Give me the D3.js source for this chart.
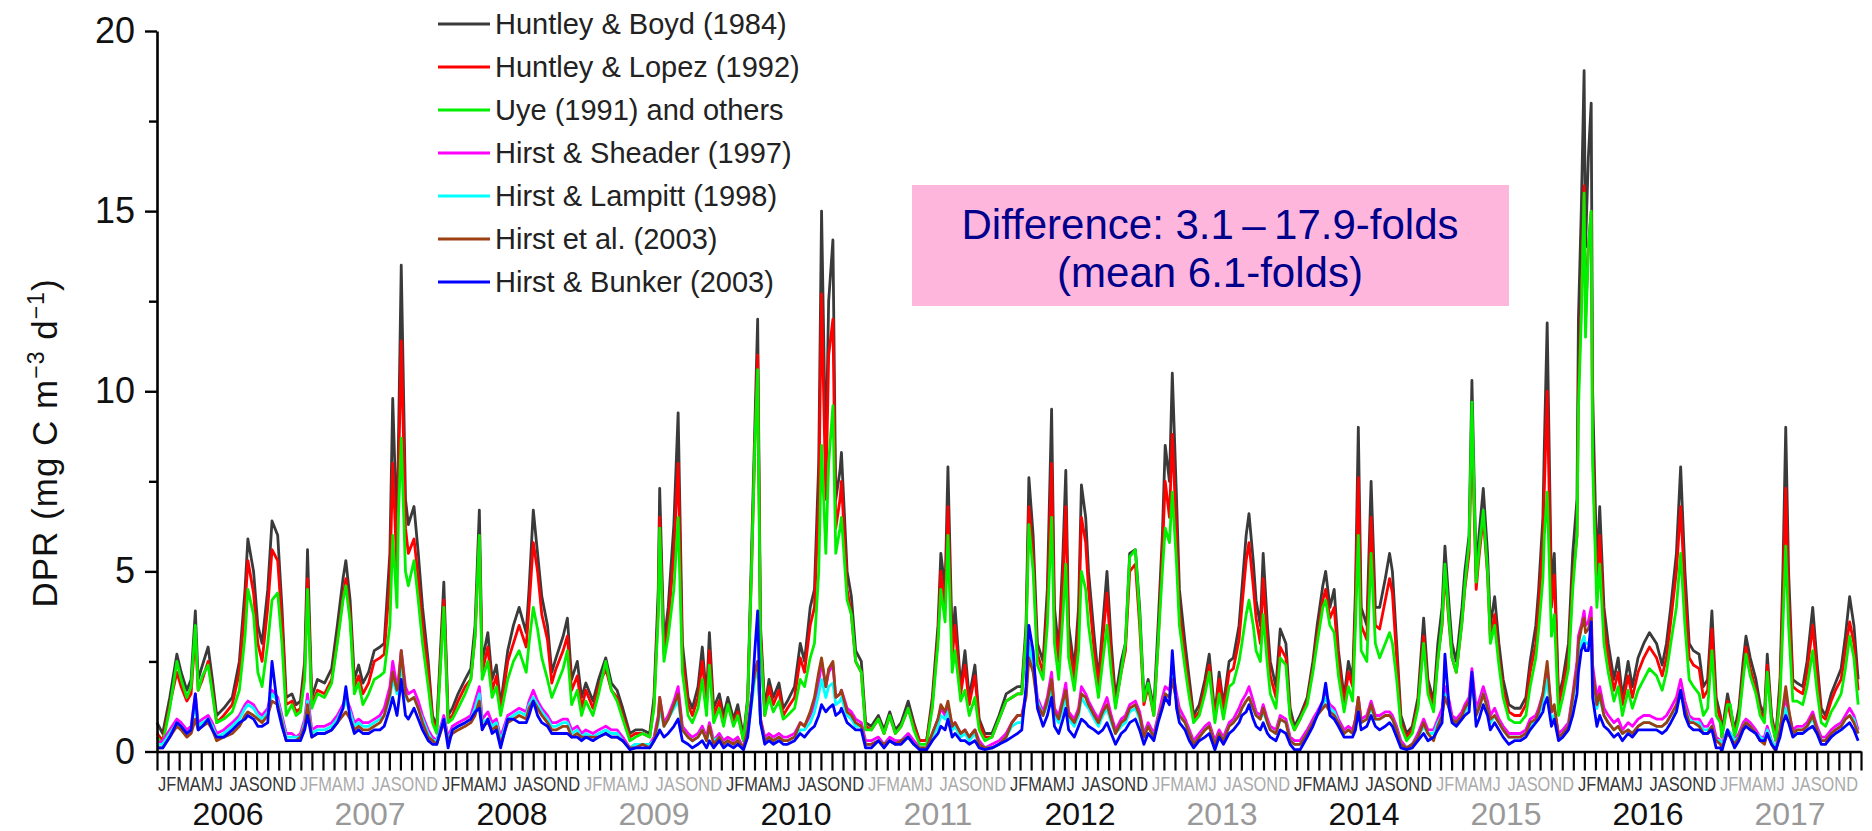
<!DOCTYPE html>
<html>
<head>
<meta charset="utf-8">
<script src="https://cdn.jsdelivr.net/npm/d3@7"></script>
<style>
  html, body { margin: 0; padding: 0; background: #fff; }
  svg { display: block; font-family: "Liberation Sans", Arial, sans-serif; }
</style>
</head>
<body>
<svg id="chart" width="1872" height="831"></svg>
<script>
// Sampling times (decimal years) and daily production rate estimates, mg C m-3 d-1
const sampleYear = [
  2006.00,2006.04,2006.09,2006.14,2006.17,2006.21,2006.24,2006.27,2006.29,2006.32,2006.36,2006.39,2006.42,2006.47,2006.53,2006.58,2006.62,2006.64,2006.68,2006.71,2006.74,2006.78,2006.81,2006.85,2006.88,2006.91,2006.95,2006.98,
  2007.01,2007.04,2007.06,2007.09,2007.13,2007.18,2007.23,2007.27,2007.31,2007.33,2007.36,2007.39,2007.42,2007.45,2007.49,2007.53,2007.57,2007.60,2007.64,2007.66,2007.69,2007.70,2007.72,2007.75,2007.77,2007.81,2007.84,2007.87,2007.91,2007.94,2007.97,
  2008.02,2008.05,2008.08,2008.12,2008.17,2008.21,2008.24,2008.27,2008.29,2008.33,2008.36,2008.39,2008.42,2008.47,2008.51,2008.55,2008.60,2008.62,2008.65,2008.68,2008.71,2008.75,2008.78,2008.81,2008.86,2008.89,2008.92,2008.96,2008.99,
  2009.02,2009.07,2009.11,2009.16,2009.20,2009.24,2009.28,2009.33,2009.37,2009.42,2009.47,2009.50,2009.53,2009.54,2009.57,2009.60,2009.64,2009.67,2009.70,2009.74,2009.77,2009.81,2009.84,2009.87,2009.89,2009.92,2009.96,2009.99,
  2010.02,2010.06,2010.09,2010.13,2010.16,2010.19,2010.21,2010.23,2010.25,2010.28,2010.31,2010.34,2010.38,2010.41,2010.44,2010.49,2010.53,2010.56,2010.60,2010.63,2010.66,2010.68,2010.71,2010.73,2010.76,2010.78,2010.81,2010.82,2010.86,2010.89,2010.92,2010.96,2010.99,
  2011.03,2011.08,2011.12,2011.16,2011.20,2011.24,2011.29,2011.33,2011.37,2011.42,2011.46,2011.50,2011.52,2011.55,2011.57,2011.60,2011.62,2011.66,2011.69,2011.72,2011.76,2011.79,2011.83,2011.88,2011.93,2011.98,
  2012.02,2012.06,2012.09,2012.12,2012.14,2012.17,2012.20,2012.24,2012.27,2012.30,2012.32,2012.35,2012.38,2012.40,2012.42,2012.46,2012.49,2012.51,2012.54,2012.56,2012.60,2012.63,2012.66,2012.69,2012.72,2012.75,2012.79,2012.82,2012.85,2012.89,2012.92,2012.95,2012.98,
  2013.02,2013.05,2013.08,2013.10,2013.13,2013.15,2013.18,2013.20,2013.24,2013.27,2013.30,2013.34,2013.38,2013.41,2013.45,2013.48,2013.51,2013.55,2013.58,2013.62,2013.64,2013.67,2013.69,2013.72,2013.74,2013.77,2013.79,2013.82,2013.84,2013.88,2013.91,2013.95,2013.98,
  2014.01,2014.05,2014.10,2014.14,2014.17,2014.21,2014.23,2014.26,2014.29,2014.32,2014.36,2014.39,2014.42,2014.44,2014.46,2014.48,2014.52,2014.55,2014.58,2014.61,2014.65,2014.68,2014.70,2014.73,2014.76,2014.80,2014.84,2014.88,2014.92,2014.95,2014.99,
  2015.02,2015.05,2015.07,2015.10,2015.12,2015.15,2015.19,2015.21,2015.24,2015.26,2015.29,2015.31,2015.34,2015.37,2015.39,2015.42,2015.45,2015.48,2015.52,2015.56,2015.60,2015.64,2015.67,2015.71,2015.73,2015.76,2015.77,2015.79,2015.82,2015.84,2015.87,2015.90,2015.94,2015.97,
  2016.00,2016.01,2016.03,2016.05,2016.06,2016.08,2016.10,2016.11,2016.14,2016.16,2016.19,2016.22,2016.26,2016.29,2016.32,2016.36,2016.39,2016.43,2016.47,2016.51,2016.56,2016.60,2016.63,2016.66,2016.70,2016.73,2016.76,2016.79,2016.82,2016.86,2016.89,2016.92,2016.95,2016.98,
  2017.01,2017.02,2017.06,2017.08,2017.11,2017.14,2017.17,2017.19,2017.22,2017.26,2017.29,2017.32,2017.34,2017.37,2017.40,2017.43,2017.45,2017.47,2017.49,2017.52,2017.55,2017.59,2017.62,2017.66,2017.69,2017.72,2017.75,2017.79,2017.82,2017.86,2017.89,2017.92,2017.95,2017.98
];

const huntleyBoyd = [
  0.8,0.5,1.5,2.7,2.2,1.7,2.0,3.9,2.0,2.4,2.9,2.0,1.0,1.2,1.5,2.5,4.5,5.9,5.0,3.5,3.0,4.5,6.4,6.0,4.0,1.5,1.6,1.3,
  1.4,2.5,5.6,1.5,2.0,1.9,2.3,3.5,4.8,5.3,4.2,2.0,2.4,1.9,2.2,2.8,2.9,3.0,5.5,9.8,6.0,8.5,13.5,7.0,6.3,6.8,5.5,4.0,2.5,1.0,0.7,
  4.7,1.0,1.2,1.6,2.0,2.3,3.5,6.7,2.5,3.3,2.0,2.4,1.3,2.8,3.5,4.0,3.3,4.5,6.7,5.5,4.3,3.5,2.2,2.6,3.2,3.7,2.0,2.5,1.5,
  1.9,1.4,2.0,2.6,1.9,1.7,1.2,0.5,0.6,0.6,0.5,1.5,4.5,7.3,3.0,4.0,6.3,9.4,3.0,1.5,1.2,1.8,2.9,1.5,3.3,1.2,1.6,1.0,
  1.5,0.9,1.3,0.4,1.5,6.0,9.0,12.0,3.5,1.2,2.0,1.5,1.9,1.2,1.4,1.8,3.0,2.5,4.0,4.5,8.0,15.0,8.0,12.5,14.2,7.0,7.8,8.3,5.0,4.3,2.8,2.5,0.8,
  0.7,1.0,0.6,1.1,0.6,0.8,1.4,0.8,0.3,0.3,1.5,3.5,5.5,4.5,7.9,3.0,4.0,1.8,2.8,1.5,2.4,0.9,0.5,0.5,1.0,1.6,
  1.7,1.8,1.8,3.5,7.6,6.0,3.0,2.5,4.5,9.5,4.0,2.8,5.5,7.8,3.5,2.3,4.0,7.4,6.5,5.0,3.2,2.0,3.5,5.0,3.0,1.5,2.5,3.0,5.5,5.6,4.0,1.5,2.0,
  1.2,3.5,6.0,8.5,7.5,10.5,7.0,4.5,3.0,2.0,1.0,1.3,2.0,2.7,1.0,2.2,1.3,2.5,2.6,3.5,4.5,6.0,6.6,5.3,4.2,3.5,5.5,3.5,2.5,1.8,3.4,3.0,1.2,
  0.7,1.0,1.5,2.5,3.5,4.6,5.0,4.0,4.5,2.8,1.5,2.5,2.0,4.5,9.0,4.0,3.5,7.5,4.0,4.0,4.8,5.5,5.0,3.0,1.0,0.5,0.7,1.5,3.7,2.0,1.4,
  3.0,4.0,5.7,4.0,3.0,2.5,4.0,5.0,6.0,10.3,5.0,6.0,7.3,5.5,3.5,4.3,3.0,2.0,1.3,1.2,1.2,1.5,2.5,3.5,4.5,6.5,8.5,11.9,4.5,5.5,1.5,2.0,3.0,5.5,
  7.0,12.0,15.0,18.9,14.0,16.5,18.0,10.0,5.0,6.8,4.0,3.0,2.0,2.6,1.5,2.5,1.8,2.6,3.0,3.3,3.0,2.4,3.0,4.0,5.5,7.9,5.0,3.0,2.8,2.7,1.8,2.0,3.9,1.5,
  1.0,0.5,1.6,1.2,0.6,1.2,2.5,3.2,2.6,2.0,1.3,1.0,2.7,1.0,0.4,2.0,5.0,9.0,5.0,2.0,1.9,1.8,2.5,4.0,2.5,1.2,1.0,1.6,1.9,2.3,3.2,4.3,3.5,2.0
];

const huntleyLopez = [
  0.5,0.3,1.3,2.2,1.8,1.4,1.6,3.3,1.7,2.0,2.5,1.7,0.8,1.0,1.3,2.2,4.0,5.3,4.4,3.0,2.5,4.0,5.6,5.3,3.6,1.3,1.4,1.1,
  1.2,2.2,4.8,1.3,1.7,1.6,2.0,3.1,4.3,4.8,3.8,1.8,2.1,1.6,1.9,2.5,2.6,2.7,4.8,8.0,5.0,7.5,11.4,6.2,5.5,5.9,4.8,3.5,2.2,0.9,0.6,
  4.2,0.9,1.0,1.4,1.8,2.0,3.2,6.0,2.2,2.9,1.7,2.1,1.1,2.5,3.0,3.5,2.9,4.0,5.8,5.0,3.8,3.1,1.9,2.3,2.8,3.2,1.7,2.1,1.2,
  1.7,1.2,1.8,2.3,1.7,1.5,1.0,0.4,0.5,0.5,0.4,1.3,4.0,6.5,2.7,3.5,5.5,8.0,2.6,1.3,1.0,1.5,2.5,1.3,2.8,1.0,1.4,0.8,
  1.3,0.8,1.1,0.3,1.4,5.5,8.5,11.0,3.2,1.0,1.8,1.3,1.7,1.0,1.2,1.5,2.6,2.2,3.5,4.0,7.0,12.7,7.0,11.0,12.0,6.2,7.0,7.5,4.5,3.8,2.5,2.2,0.7,
  0.6,0.9,0.5,1.0,0.5,0.7,1.2,0.7,0.3,0.3,1.3,3.2,5.0,4.0,6.8,2.6,3.5,1.6,2.4,1.3,2.1,0.8,0.4,0.4,0.9,1.4,
  1.5,1.6,1.6,3.2,6.8,5.4,2.7,2.2,4.0,8.0,3.5,2.5,4.8,6.8,3.1,2.0,3.5,6.5,5.8,4.5,2.8,1.8,3.1,4.4,2.6,1.3,2.2,2.8,5.0,5.2,3.5,1.3,1.8,
  1.0,3.0,5.5,7.5,6.5,8.8,6.0,3.9,2.6,1.7,0.9,1.1,1.8,2.4,0.9,2.0,1.1,2.2,2.3,3.1,4.0,5.3,5.8,4.6,3.7,3.0,4.8,3.0,2.1,1.5,2.9,2.6,1.0,
  0.6,0.9,1.4,2.3,3.2,4.2,4.5,3.7,4.0,2.5,1.3,2.2,1.8,4.0,7.6,3.5,3.1,6.5,3.5,3.4,4.2,4.8,4.4,2.6,0.8,0.4,0.6,1.3,3.2,1.8,1.2,
  2.6,3.5,5.0,3.5,2.6,2.2,3.6,4.5,5.5,9.0,4.5,5.4,6.5,4.9,3.1,3.8,2.6,1.7,1.1,1.0,1.0,1.3,2.2,3.0,4.0,5.8,7.3,10.0,4.0,4.9,1.3,1.8,2.6,4.8,
  6.0,10.0,12.5,15.7,12.0,14.0,15.0,8.5,4.4,6.0,3.5,2.6,1.7,2.2,1.3,2.1,1.5,2.2,2.6,2.9,2.6,2.1,2.6,3.6,5.0,6.8,4.4,2.6,2.4,2.3,1.5,1.7,3.4,1.3,
  0.9,0.4,1.4,1.0,0.5,1.0,2.2,2.9,2.3,1.7,1.1,0.9,2.4,0.9,0.3,1.8,4.2,7.3,4.3,1.8,1.7,1.6,2.2,3.5,2.2,1.0,0.9,1.4,1.7,2.0,2.8,3.6,3.0,1.7
];

const uyeOthers = [
  0.4,0.2,1.2,2.5,2.0,1.5,1.8,3.5,1.7,2.1,2.4,1.6,0.8,0.9,1.1,1.7,3.2,4.5,3.8,2.2,1.8,3.0,4.2,4.4,3.0,1.0,1.3,1.0,
  1.1,2.0,4.5,1.2,1.6,1.5,1.9,3.0,4.2,4.6,3.6,1.6,1.9,1.3,1.6,2.0,2.1,2.2,3.5,6.0,4.0,6.5,8.7,5.0,4.6,5.3,4.2,3.0,1.8,0.8,0.5,
  4.0,0.8,0.9,1.2,1.6,2.0,3.2,6.0,2.0,2.5,1.5,1.8,1.0,2.0,2.5,2.8,2.2,3.0,4.0,3.4,2.6,2.0,1.5,1.8,2.3,2.8,1.3,1.7,1.0,
  1.4,1.0,1.6,2.5,1.7,1.4,0.9,0.3,0.4,0.5,0.4,1.2,3.8,6.2,2.5,3.2,4.5,6.5,2.2,1.0,0.8,1.2,2.0,1.0,2.4,0.8,1.2,0.7,
  1.3,0.7,1.0,0.3,1.4,5.5,8.5,10.6,3.0,1.0,1.5,1.1,1.4,0.9,1.0,1.2,2.0,1.8,2.6,3.0,5.0,8.5,5.5,8.0,9.6,5.5,6.2,6.5,4.2,3.8,2.5,2.2,0.6,
  0.6,0.9,0.5,1.0,0.5,0.7,1.2,0.6,0.2,0.2,1.2,3.0,4.5,3.6,6.0,2.2,2.8,1.4,1.7,1.0,1.5,0.6,0.3,0.4,0.9,1.4,
  1.5,1.6,1.6,3.2,6.3,5.0,2.4,2.0,3.5,6.5,3.0,2.0,3.8,5.2,2.6,1.7,2.8,5.0,4.5,3.5,2.3,1.5,2.5,3.5,2.2,1.2,2.2,3.0,5.4,5.6,3.8,1.4,1.9,
  1.0,3.0,5.0,6.2,5.8,7.2,5.2,3.5,2.3,1.5,0.8,1.0,1.6,2.2,0.8,1.6,0.9,1.8,1.9,2.5,3.0,3.8,4.2,3.5,2.8,2.5,3.8,2.4,1.6,1.2,2.6,2.4,0.9,
  0.6,0.9,1.3,2.2,3.0,4.0,4.2,3.5,3.3,2.1,1.1,1.8,1.4,3.5,6.0,2.8,2.5,5.5,3.0,2.6,3.0,3.3,3.0,2.0,0.7,0.3,0.5,1.2,3.0,1.6,1.1,
  2.5,3.6,5.2,3.6,2.6,2.2,3.6,4.6,5.8,9.7,4.7,5.6,6.7,5.0,3.0,3.5,2.4,1.5,0.9,0.8,0.8,1.0,1.8,2.6,3.4,4.8,6.0,7.2,3.2,3.8,1.0,1.5,2.3,4.5,
  6.0,9.5,12.0,15.5,11.5,14.0,15.0,8.0,4.0,5.2,3.0,2.2,1.4,1.8,1.0,1.7,1.2,1.7,2.0,2.3,2.1,1.7,2.2,3.0,4.0,5.5,3.5,2.0,1.8,1.6,1.0,1.2,2.8,1.0,
  0.8,0.4,1.3,1.3,0.4,0.9,2.0,2.7,2.1,1.6,1.0,0.8,2.2,0.8,0.3,1.5,3.5,5.7,3.5,1.4,1.4,1.3,1.8,2.8,1.7,0.8,0.7,1.1,1.3,1.6,2.3,3.2,2.6,1.3
];

const hirstSheader = [
  0.2,0.3,0.6,0.9,0.8,0.6,0.7,1.6,0.8,0.9,1.0,0.8,0.5,0.6,0.8,1.0,1.3,1.4,1.3,1.1,1.0,1.2,1.7,1.5,1.0,0.5,0.5,0.4,
  0.5,0.9,1.6,0.6,0.7,0.7,0.8,1.0,1.3,1.5,1.2,0.8,0.9,0.8,0.8,0.9,1.0,1.2,1.8,2.5,1.8,2.0,2.8,1.8,1.6,1.7,1.4,1.0,0.6,0.4,0.3,
  1.0,0.4,0.7,0.8,0.9,1.0,1.4,1.8,0.9,1.1,0.8,0.9,0.4,1.0,1.1,1.2,1.1,1.4,1.7,1.4,1.2,1.0,0.8,0.8,0.9,0.9,0.6,0.7,0.5,
  0.6,0.5,0.6,0.7,0.6,0.6,0.4,0.1,0.2,0.2,0.2,0.4,1.0,1.5,0.8,1.0,1.4,1.8,0.7,0.5,0.4,0.5,0.7,0.4,0.8,0.3,0.5,0.3,
  0.4,0.3,0.4,0.1,0.6,1.6,2.2,2.5,0.9,0.4,0.5,0.4,0.5,0.4,0.4,0.5,0.8,0.7,1.0,1.3,1.9,2.5,1.8,2.2,2.4,1.5,1.6,1.7,1.2,1.1,0.9,0.8,0.3,
  0.3,0.4,0.2,0.4,0.3,0.3,0.5,0.3,0.1,0.1,0.5,0.9,1.2,1.0,1.3,0.7,0.8,0.5,0.6,0.4,0.6,0.3,0.1,0.2,0.3,0.5,
  0.8,1.0,1.0,1.6,3.0,2.5,1.5,1.1,1.5,2.2,1.2,1.0,1.5,1.9,1.1,0.9,1.2,1.8,1.6,1.4,1.1,0.9,1.2,1.5,1.0,0.6,0.9,1.0,1.3,1.4,1.1,0.5,0.8,
  0.5,1.0,1.5,1.8,1.7,2.3,1.6,1.2,0.9,0.6,0.3,0.5,0.7,0.8,0.3,0.6,0.4,0.8,0.9,1.2,1.4,1.6,1.8,1.4,1.1,1.0,1.3,0.9,0.7,0.6,1.0,0.9,0.4,
  0.3,0.3,0.6,0.9,1.1,1.4,1.6,1.3,1.2,0.9,0.6,0.7,0.6,0.9,1.5,0.9,1.0,1.4,1.0,1.0,1.1,1.1,1.0,0.7,0.3,0.1,0.2,0.5,0.9,0.6,0.6,
  0.9,1.2,1.8,1.4,1.0,0.9,1.1,1.3,1.5,2.3,1.2,1.4,1.8,1.4,1.0,1.2,0.9,0.7,0.5,0.5,0.5,0.6,0.9,1.0,1.2,1.6,1.8,2.3,1.1,1.2,0.5,0.6,0.8,1.6,
  2.5,3.2,3.5,3.9,3.5,3.6,4.0,2.4,1.5,1.8,1.2,1.0,0.8,0.9,0.6,0.8,0.7,0.9,1.0,1.0,0.9,0.9,1.0,1.2,1.5,2.0,1.4,1.0,0.9,0.9,0.7,0.7,0.9,0.4,
  0.3,0.2,0.6,0.5,0.3,0.5,0.8,0.9,0.8,0.6,0.4,0.4,0.7,0.3,0.1,0.6,1.1,1.5,1.1,0.6,0.7,0.7,0.8,1.1,0.7,0.4,0.4,0.6,0.7,0.8,1.0,1.2,1.0,0.6
];

const hirstLampitt = [
  0.2,0.2,0.5,0.8,0.7,0.5,0.6,1.4,0.7,0.8,0.9,0.7,0.4,0.5,0.7,0.9,1.2,1.3,1.2,1.0,0.9,1.1,1.6,1.4,0.9,0.4,0.4,0.4,
  0.4,0.8,1.4,0.5,0.6,0.6,0.7,0.9,1.2,1.4,1.1,0.7,0.8,0.7,0.7,0.8,0.9,1.0,1.5,2.0,1.6,1.8,2.4,1.5,1.4,1.5,1.2,0.9,0.5,0.3,0.3,
  0.9,0.3,0.6,0.7,0.8,0.9,1.2,1.6,0.8,0.9,0.7,0.8,0.3,0.9,1.0,1.1,1.0,1.3,1.5,1.3,1.1,0.9,0.7,0.7,0.8,0.8,0.5,0.6,0.4,
  0.5,0.4,0.5,0.6,0.5,0.5,0.3,0.1,0.2,0.2,0.2,0.3,0.8,1.2,0.7,0.9,1.2,1.4,0.6,0.4,0.3,0.4,0.6,0.3,0.6,0.3,0.4,0.2,
  0.3,0.2,0.3,0.1,0.5,1.4,2.0,2.3,0.8,0.3,0.4,0.3,0.4,0.3,0.3,0.4,0.6,0.6,0.8,1.1,1.6,2.0,1.5,1.8,1.9,1.3,1.4,1.5,1.0,0.9,0.7,0.7,0.2,
  0.2,0.3,0.2,0.3,0.2,0.3,0.4,0.2,0.1,0.1,0.4,0.7,1.0,0.9,1.1,0.6,0.7,0.4,0.5,0.3,0.5,0.2,0.1,0.1,0.2,0.4,
  0.7,0.8,0.8,1.6,3.0,2.4,1.4,1.0,1.3,1.8,1.0,0.8,1.2,1.5,0.9,0.7,1.0,1.5,1.3,1.2,0.9,0.7,1.0,1.2,0.8,0.5,0.7,0.8,1.1,1.2,0.9,0.4,0.7,
  0.4,0.9,1.3,1.6,1.5,2.1,1.4,1.0,0.8,0.5,0.2,0.4,0.6,0.7,0.2,0.5,0.3,0.7,0.8,1.0,1.2,1.4,1.5,1.2,1.0,0.9,1.1,0.8,0.6,0.5,0.9,0.8,0.3,
  0.2,0.2,0.5,0.8,1.0,1.3,1.5,1.2,1.1,0.8,0.5,0.6,0.5,0.8,1.3,0.8,0.9,1.2,0.9,0.9,1.0,1.0,0.9,0.6,0.2,0.1,0.2,0.4,0.7,0.5,0.5,
  0.8,1.0,1.6,1.2,0.9,0.8,1.0,1.1,1.3,2.0,1.0,1.2,1.6,1.2,0.8,1.0,0.8,0.6,0.4,0.4,0.4,0.5,0.7,0.9,1.0,1.4,1.6,2.0,0.9,1.0,0.4,0.5,0.7,1.4,
  2.2,2.8,3.0,3.2,3.0,3.0,3.2,2.0,1.2,1.5,1.0,0.8,0.6,0.7,0.5,0.6,0.5,0.7,0.8,0.8,0.7,0.7,0.8,1.0,1.2,1.7,1.2,0.9,0.8,0.8,0.6,0.6,0.7,0.3,
  0.3,0.1,0.6,0.5,0.3,0.4,0.7,0.8,0.7,0.5,0.4,0.3,0.6,0.3,0.1,0.5,0.9,1.2,0.9,0.5,0.6,0.6,0.7,0.9,0.6,0.3,0.3,0.5,0.6,0.7,0.9,1.0,0.9,0.5
];

const hirstEtAl = [
  0.1,0.1,0.4,0.7,0.6,0.4,0.5,0.9,0.6,0.7,0.8,0.6,0.3,0.4,0.5,0.7,1.0,1.1,1.0,0.9,0.8,1.0,1.4,1.3,0.8,0.3,0.3,0.3,
  0.4,0.7,1.3,0.4,0.5,0.5,0.6,0.8,1.0,1.1,0.9,0.6,0.7,0.6,0.6,0.7,0.8,1.0,1.6,2.2,1.7,1.8,2.8,1.6,1.4,1.5,1.2,0.8,0.4,0.3,0.2,
  0.8,0.3,0.5,0.6,0.7,0.8,1.0,1.4,0.7,0.8,0.6,0.7,0.2,0.8,0.9,1.0,0.9,1.2,1.4,1.2,1.0,0.8,0.6,0.6,0.7,0.7,0.4,0.5,0.4,
  0.4,0.4,0.4,0.5,0.4,0.4,0.3,0.1,0.1,0.2,0.1,0.3,0.9,1.5,0.7,0.9,1.3,1.6,0.6,0.4,0.3,0.4,0.6,0.3,0.7,0.2,0.4,0.2,
  0.3,0.2,0.3,0.1,0.6,1.6,2.2,2.5,0.9,0.3,0.4,0.3,0.4,0.3,0.3,0.4,0.8,0.7,1.1,1.5,2.2,2.6,1.8,2.3,2.5,1.5,1.6,1.7,1.1,1.0,0.8,0.7,0.2,
  0.2,0.3,0.2,0.3,0.2,0.3,0.4,0.2,0.1,0.1,0.5,0.9,1.3,1.1,1.4,0.7,0.8,0.5,0.6,0.4,0.6,0.2,0.1,0.1,0.2,0.4,
  0.8,1.0,1.0,1.5,2.6,2.2,1.3,1.0,1.4,2.0,1.1,0.9,1.4,1.7,1.0,0.8,1.1,1.6,1.5,1.3,1.0,0.8,1.1,1.3,0.9,0.5,0.8,0.9,1.2,1.3,1.0,0.4,0.7,
  0.4,0.9,1.3,1.6,1.5,2.0,1.4,1.0,0.8,0.5,0.2,0.4,0.6,0.7,0.2,0.5,0.3,0.7,0.8,1.0,1.2,1.4,1.5,1.2,1.0,0.9,1.2,0.8,0.6,0.5,0.9,0.8,0.3,
  0.2,0.2,0.5,0.8,1.0,1.2,1.3,1.1,1.0,0.8,0.5,0.6,0.5,0.9,1.5,0.8,0.9,1.3,0.9,0.9,1.0,1.0,0.9,0.6,0.2,0.1,0.2,0.4,0.8,0.5,0.3,
  0.7,1.0,1.5,1.2,0.9,0.8,1.0,1.2,1.4,2.0,1.0,1.2,1.6,1.2,0.9,1.0,0.8,0.6,0.4,0.4,0.4,0.5,0.8,0.9,1.1,1.6,1.9,2.5,1.1,1.3,0.4,0.5,0.7,1.5,
  2.3,3.0,3.4,3.7,3.3,3.4,3.7,2.2,1.3,1.6,1.0,0.8,0.6,0.7,0.5,0.6,0.5,0.7,0.8,0.8,0.7,0.7,0.8,1.0,1.3,1.7,1.2,0.8,0.8,0.7,0.5,0.5,0.7,0.3,
  0.2,0.1,0.5,0.4,0.2,0.4,0.7,0.8,0.7,0.5,0.3,0.2,0.5,0.2,0.0,0.6,1.2,1.8,1.2,0.5,0.6,0.6,0.7,1.0,0.6,0.3,0.3,0.5,0.6,0.7,0.9,1.0,0.8,0.5
];

const hirstBunker = [
  0.1,0.1,0.4,0.8,0.7,0.5,0.6,1.6,0.6,0.7,0.9,0.6,0.4,0.4,0.6,0.8,0.9,1.0,0.9,0.7,0.7,0.8,2.5,1.2,0.7,0.3,0.3,0.3,
  0.3,0.6,1.0,0.4,0.5,0.5,0.6,0.8,1.2,1.8,0.9,0.5,0.6,0.5,0.5,0.6,0.6,0.7,1.2,1.5,1.0,1.3,2.0,1.0,0.9,1.2,0.9,0.6,0.3,0.2,0.2,
  0.9,0.1,0.6,0.7,0.8,0.9,1.1,1.2,0.6,0.9,0.5,0.6,0.1,0.9,0.9,0.8,0.8,1.0,1.4,1.0,0.8,0.7,0.5,0.5,0.5,0.5,0.4,0.4,0.3,
  0.4,0.3,0.4,0.5,0.4,0.4,0.3,0.05,0.1,0.1,0.1,0.3,0.5,0.6,0.4,0.5,0.7,0.9,0.3,0.2,0.1,0.2,0.3,0.1,0.3,0.1,0.3,0.1,
  0.2,0.1,0.2,0.05,0.4,1.5,2.8,3.9,0.8,0.2,0.3,0.2,0.3,0.2,0.2,0.3,0.5,0.4,0.6,0.7,1.0,1.3,1.1,1.2,1.3,1.0,1.1,1.2,0.8,0.7,0.6,0.6,0.1,
  0.1,0.3,0.1,0.3,0.2,0.2,0.4,0.2,0.05,0.05,0.3,0.5,0.7,0.6,0.9,0.4,0.5,0.3,0.3,0.2,0.3,0.1,0.05,0.1,0.2,0.3,
  0.4,0.5,0.6,1.8,3.5,2.8,1.2,0.7,1.0,1.5,0.7,0.5,0.9,1.2,0.6,0.4,0.7,0.9,0.8,0.7,0.6,0.5,0.6,0.8,0.5,0.2,0.5,0.6,0.8,0.9,0.6,0.2,0.5,
  0.3,0.8,1.2,1.5,1.3,2.8,1.2,0.8,0.6,0.3,0.1,0.3,0.4,0.5,0.05,0.4,0.2,0.5,0.6,0.8,1.0,1.1,1.3,0.9,0.7,0.6,0.8,0.5,0.4,0.3,0.6,0.5,0.2,
  0.05,0.05,0.4,0.7,1.0,1.4,1.9,1.0,0.9,0.7,0.4,0.4,0.4,0.6,1.1,0.6,0.7,1.0,0.7,0.6,0.7,0.8,0.7,0.4,0.1,0.05,0.1,0.3,0.5,0.3,0.4,
  0.6,0.8,2.7,1.2,0.8,0.7,0.9,1.0,1.1,2.2,0.7,0.9,1.3,1.0,0.6,0.8,0.6,0.4,0.2,0.3,0.3,0.4,0.6,0.8,0.9,1.1,1.3,1.5,0.7,0.9,0.3,0.4,0.6,1.0,
  1.6,2.2,2.8,3.0,2.8,2.8,3.6,1.5,0.7,1.0,0.7,0.6,0.4,0.5,0.3,0.5,0.4,0.6,0.6,0.6,0.6,0.5,0.6,0.8,1.1,1.7,1.0,0.7,0.6,0.6,0.5,0.5,0.6,0.1,
  0.1,0.0,0.6,0.4,0.1,0.3,0.6,0.7,0.6,0.5,0.3,0.3,0.5,0.2,0.05,0.4,0.8,1.0,0.8,0.4,0.5,0.5,0.6,0.7,0.5,0.2,0.2,0.4,0.5,0.6,0.7,0.8,0.6,0.3
];

const seriesNames = [
  "Huntley & Boyd (1984)", "Huntley & Lopez (1992)", "Uye (1991) and others",
  "Hirst & Sheader (1997)", "Hirst & Lampitt (1998)", "Hirst et al. (2003)", "Hirst & Bunker (2003)"
];
const seriesValues = [huntleyBoyd, huntleyLopez, uyeOthers, hirstSheader, hirstLampitt, hirstEtAl, hirstBunker];
const seriesColors = ["#3a3a3a", "#ff0000", "#00f000", "#ff00ff", "#00ffff", "#9c3f12", "#0000ff"];

const years = [2006, 2007, 2008, 2009, 2010, 2011, 2012, 2013, 2014, 2015, 2016, 2017];
const halfYearLetters = ["JFMAMJ", "JASOND"];
const yMajorTicks = [0, 5, 10, 15, 20];
const yMinorTicks = [2.5, 7.5, 12.5, 17.5];
const noteLines = ["Difference: 3.1\u2009\u2013\u200917.9-folds", "(mean 6.1-folds)"];

const svg = d3.select("#chart");

const x = d3.scaleLinear().domain([2006, 2018]).range([157, 1861]);
const y = d3.scaleLinear().domain([0, 20]).range([751.5, 31]);

// ---- data lines
const line = d3.line()
  .defined(d => d.v != null && !isNaN(d.v))
  .x(d => x(d.t))
  .y(d => y(d.v));

const series = seriesNames.map((name, i) => ({
  name, color: seriesColors[i],
  points: sampleYear.map((t, j) => ({ t, v: seriesValues[i][j] }))
}));

svg.append("g").attr("class", "lines")
  .selectAll("path").data(series).join("path")
  .attr("d", d => line(d.points))
  .attr("fill", "none")
  .attr("stroke", d => d.color)
  .attr("stroke-width", 2.8)
  .attr("stroke-linejoin", "round");

// ---- y axis
const yAxis = svg.append("g").attr("transform", `translate(${x(2006)},0)`)
  .call(d3.axisLeft(y).tickValues(yMajorTicks).tickSize(12).tickSizeOuter(0).tickPadding(10));
yAxis.select(".domain").attr("stroke", "#000").attr("stroke-width", 2.6);
yAxis.selectAll(".tick line").attr("stroke", "#000").attr("stroke-width", 2.4);
yAxis.selectAll(".tick text")
  .attr("font-size", 36).attr("fill", "#111")
  .attr("font-family", "Liberation Sans, Arial, sans-serif");

const yMinor = svg.append("g").attr("transform", `translate(${x(2006)},0)`)
  .call(d3.axisLeft(y).tickValues(yMinorTicks).tickSize(8).tickSizeOuter(0).tickFormat(""));
yMinor.select(".domain").remove();
yMinor.selectAll(".tick line").attr("stroke", "#000").attr("stroke-width", 2.4);

// ---- x axis: regular sampling ticks along the record
const xTickValues = d3.range(155).map(i => 2006 + i * 12 / 154);
const xAxis = svg.append("g").attr("transform", `translate(0,${y(0)})`)
  .call(d3.axisBottom(x).tickValues(xTickValues).tickSize(19).tickSizeOuter(0).tickFormat(""));
xAxis.select(".domain").attr("stroke", "#000").attr("stroke-width", 2.6);
xAxis.selectAll(".tick line").attr("stroke", "#000").attr("stroke-width", 2.2);

// month initials (condensed) and years
const monthG = svg.append("g").attr("font-size", 20);
const squeeze = 0.82;
years.forEach((yr, i) => {
  const x0 = x(yr), x1 = x(yr + 1);
  const dark = i % 2 === 0;
  monthG.append("text")
    .attr("transform", `translate(${x0 + 1},791) scale(${squeeze},1)`)
    .attr("fill", dark ? "#333" : "#aaa")
    .text(halfYearLetters[0]);
  monthG.append("text")
    .attr("transform", `translate(${x1 - 3},791) scale(${squeeze},1)`)
    .attr("text-anchor", "end")
    .attr("fill", dark ? "#333" : "#aaa")
    .text(halfYearLetters[1]);
  svg.append("text")
    .attr("x", (x0 + x1) / 2).attr("y", 825)
    .attr("text-anchor", "middle").attr("font-size", 32)
    .attr("fill", dark ? "#111" : "#999")
    .text(yr);
});

// ---- y axis title
const yTitle = svg.append("text")
  .attr("transform", "translate(57,443) rotate(-90)")
  .attr("text-anchor", "middle").attr("font-size", 35)
  .attr("letter-spacing", 1).attr("fill", "#111");
yTitle.append("tspan").text("DPR (mg C m");
yTitle.append("tspan").attr("font-size", 23).attr("dy", -13).text("\u22123");
yTitle.append("tspan").attr("dy", 13).text(" d");
yTitle.append("tspan").attr("font-size", 23).attr("dy", -13).text("\u22121");
yTitle.append("tspan").attr("dy", 13).text(")");

// ---- legend
const legend = svg.append("g").attr("transform", "translate(438,24)");
series.forEach((s, i) => {
  const g = legend.append("g").attr("transform", `translate(0,${i * 43})`);
  g.append("line").attr("x1", 0).attr("x2", 52).attr("y1", 0).attr("y2", 0)
    .attr("stroke", s.color).attr("stroke-width", 3);
  g.append("text").attr("x", 57).attr("y", 10)
    .attr("font-size", 29).attr("fill", "#222").text(s.name);
});

// ---- annotation box
svg.append("rect")
  .attr("x", 912).attr("y", 185).attr("width", 597).attr("height", 121)
  .attr("fill", "#ffb6dc");
noteLines.forEach((t, i) => {
  svg.append("text")
    .attr("x", 1210).attr("y", 239 + i * 48)
    .attr("text-anchor", "middle").attr("font-size", 42).attr("fill", "#00008b")
    .text(t);
});
</script>
</body>
</html>
